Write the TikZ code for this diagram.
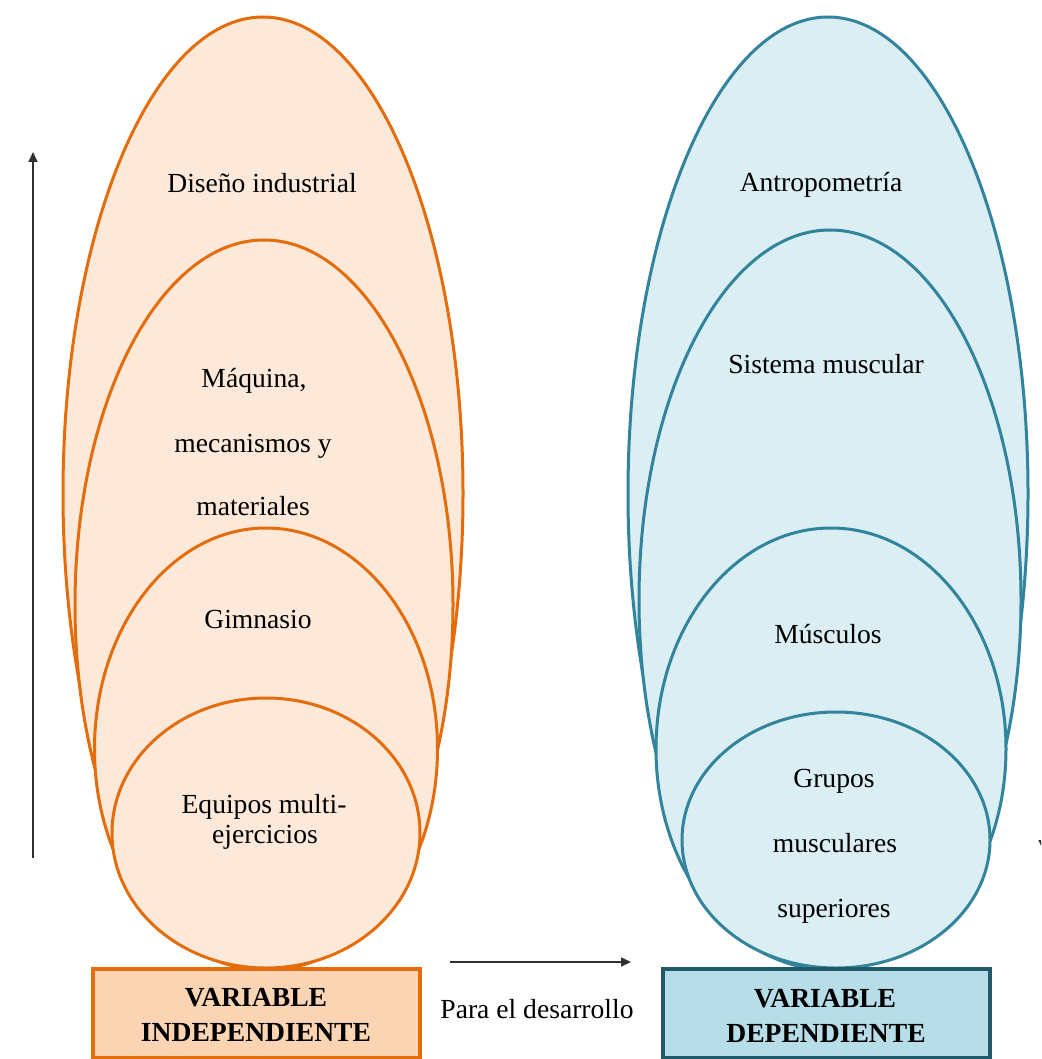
\documentclass[tikz,border=0pt]{standalone}
\usepackage{fontspec}
\setmainfont{Liberation Serif}
\usetikzlibrary{shapes.geometric,arrows.meta}
\definecolor{orline}{HTML}{E46C0A}
\definecolor{orfill}{HTML}{FDE9D9}
\definecolor{orbox}{HTML}{FBD4B4}
\definecolor{tlline}{HTML}{31849B}
\definecolor{tlfill}{HTML}{DAEEF3}
\definecolor{tlbox}{HTML}{B7DDE8}
\definecolor{tlboxline}{HTML}{215968}
\definecolor{arr}{HTML}{303030}
\tikzset{
  oell/.style={ellipse, draw=orline, fill=orfill, line width=3pt, inner sep=0pt},
  tell/.style={ellipse, draw=tlline, fill=tlfill, line width=3pt, inner sep=0pt},
  lbl/.style={anchor=base, inner sep=0pt, font=\fontsize{27.6}{33}\selectfont},
  blbl/.style={anchor=base, inner sep=0pt, font=\fontsize{27.6}{33}\selectfont\bfseries},
  obox/.style={draw=orline, fill=orbox, line width=3.5pt},
  tbox/.style={draw=tlboxline, fill=tlbox, line width=3.5pt},
  conn/.style={draw=arr, line width=1.6pt, -{Triangle[length=10pt,width=9pt]}}
}
\begin{document}
\begin{tikzpicture}[x=1pt,y=-1pt]
\useasboundingbox (0,0) rectangle (1041,1059);
\clip (0,0) rectangle (1041,1059);
\fill[white] (0,0) rectangle (1041,1059);
% left ellipses
\node[oell, minimum width=400pt, minimum height=953pt] (L1) at (263,493.5) {};
\node[oell, minimum width=378pt, minimum height=730pt] (L2) at (264,605) {};
\node[oell, minimum width=343pt, minimum height=442pt] (L3) at (266,749) {};
\node[oell, minimum width=308pt, minimum height=270pt] (L4) at (266,833) {};
% right ellipses
\node[tell, minimum width=400pt, minimum height=953pt] (R1) at (828,493.5) {};
\node[tell, minimum width=382pt, minimum height=740pt] (R2) at (830,600) {};
\node[tell, minimum width=350pt, minimum height=442pt] (R3) at (831,749) {};
\node[tell, minimum width=308pt, minimum height=256pt] (R4) at (836,840) {};
% boxes
\draw[obox] (93,969) rectangle (420,1058);
\node[inner sep=0pt, minimum width=327pt, minimum height=89pt] (LB) at (256.5,1013.5) {};
\draw[tbox] (663,969) rectangle (990,1058);
\node[inner sep=0pt, minimum width=327pt, minimum height=89pt] (RB) at (826.5,1013.5) {};
% labels left
\node[lbl] (t1) at (262,193) {Diseño industrial};
\node[lbl] (t2a) at (254,387) {Máquina,};
\node[lbl] (t2b) at (253,452) {mecanismos y};
\node[lbl] (t2c) at (253,515) {materiales};
\node[lbl] (t3) at (258,628) {Gimnasio};
\node[lbl] (t4a) at (264,813) {Equipos multi-};
\node[lbl] (t4b) at (265,843) {ejercicios};
% labels right
\node[lbl] (u1) at (821,192) {Antropometría};
\node[lbl] (u2) at (826,373) {Sistema muscular};
\node[lbl] (u3) at (828,643) {Músculos};
\node[lbl] (u4a) at (834,787) {Grupos};
\node[lbl] (u4b) at (835,852) {musculares};
\node[lbl] (u4c) at (834,917) {superiores};
% box labels
\node[blbl] (b1a) at (256,1006) {VARIABLE};
\node[blbl] (b1b) at (256,1041) {INDEPENDIENTE};
\node[blbl] (b2a) at (825,1007) {VARIABLE};
\node[blbl] (b2b) at (826,1042) {DEPENDIENTE};
\node[lbl] (para) at (537,1018) {Para el desarrollo};
% arrows
\coordinate (va) at (33,858);
\coordinate (vb) at (33,152);
\draw[conn] (va) -- (vb);
\coordinate (ha) at (450,962);
\coordinate (hb) at (631,962);
\draw[conn] (ha) -- (hb);
\coordinate (wa) at (1043,150);
\coordinate (wb) at (1043,850);
\draw[conn] (wa) -- (wb);
\end{tikzpicture}
\end{document}
